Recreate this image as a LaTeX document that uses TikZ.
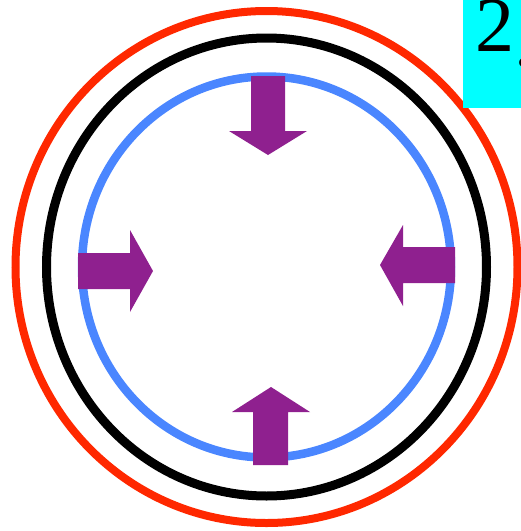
\documentclass[tikz,border=0pt]{standalone}
\usepackage{fontspec}
\setmainfont{Liberation Serif}
\definecolor{ringred}{RGB}{255,40,0}
\definecolor{ringblue}{RGB}{74,134,255}
\definecolor{arrowpurple}{RGB}{143,32,143}
\definecolor{labelcyan}{RGB}{0,255,255}
\begin{document}
\begin{tikzpicture}[x=1pt,y=-1pt,
  ring/.style={line width=#1},
  fatarrow/.style={fill=arrowpurple,draw=none}]
\useasboundingbox (0,0) rectangle (521,531);
\coordinate (c) at (266.5,267);
% rings
\draw[ring=8pt,ringred] (c) ellipse [x radius=251pt, y radius=256pt];
\draw[ring=9pt,black] (c) ellipse [x radius=220pt, y radius=229pt];
\draw[ring=8.5pt,ringblue] (c) ellipse [x radius=184.5pt, y radius=190.5pt];
% arrows
\fill[fatarrow] (251,76) -- (285,76) -- (285,131) -- (307,131) -- (268,155) -- (229,131) -- (251,131) -- cycle;
\fill[fatarrow] (253,465) -- (288,465) -- (288,412) -- (310,412) -- (271,387) -- (232,412) -- (253,412) -- cycle;
\fill[fatarrow] (78,253) -- (78,289) -- (130,289) -- (130,312) -- (153,271) -- (130,230) -- (130,253) -- cycle;
\fill[fatarrow] (455,247) -- (455,283) -- (403,283) -- (403,306) -- (380,265) -- (403,225) -- (403,247) -- cycle;
% label
\begin{scope}
\clip (0,0) rectangle (521,531);
\fill[labelcyan] (463,-5) rectangle (540,108);
\node[anchor=base west,inner sep=0pt,font=\fontsize{78}{84}\selectfont] (lbl) at (475,51) {2\raisebox{-15pt}{.}};
\end{scope}
\end{tikzpicture}
\end{document}
